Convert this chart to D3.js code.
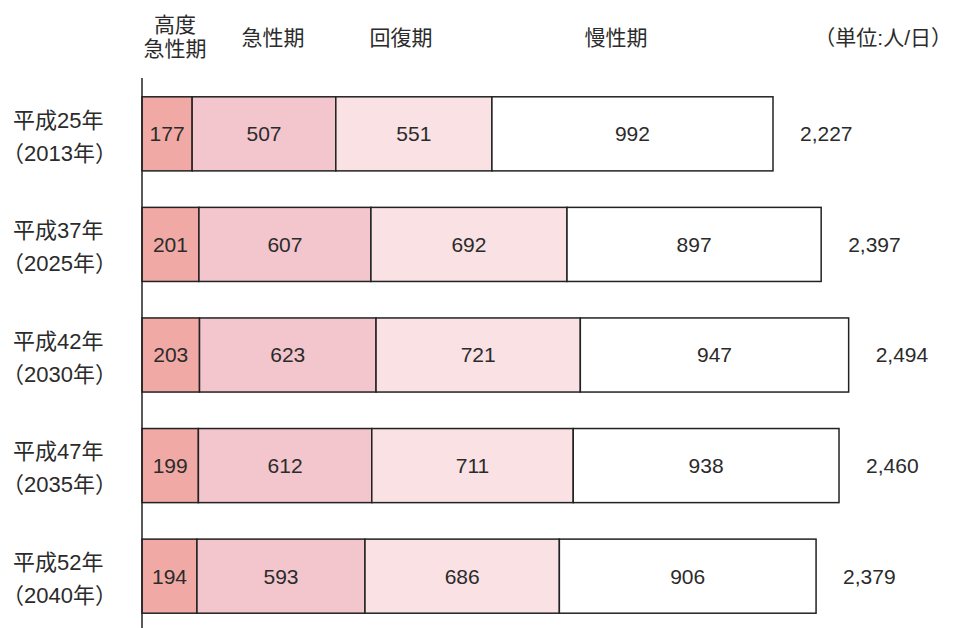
<!DOCTYPE html>
<html>
<head>
<meta charset="utf-8">
<script src="https://cdn.jsdelivr.net/npm/d3@7"></script>
<style>
  body { margin: 0; background: #fff; }
  svg { display: block; font-family: "Liberation Sans", "Noto Sans CJK JP", sans-serif; }
  text { fill: #2b2b2b; }
</style>
</head>
<body>
<script>
const years = ['平成25年', '平成37年', '平成42年', '平成47年', '平成52年']
const westernYears = ['（2013年）', '（2025年）', '（2030年）', '（2035年）', '（2040年）']
const phases = ['高度急性期', '急性期', '回復期', '慢性期']
const highAcute = [177, 201, 203, 199, 194]
const acute = [507, 607, 623, 612, 593]
const recovery = [551, 692, 721, 711, 686]
const chronic = [992, 897, 947, 938, 906]
const totals = [2227, 2397, 2494, 2460, 2379]

const colors = ['#f0a9a5', '#f2c6cc', '#f9e1e4', '#ffffff']
const width = 963, height = 628
const margin = { top: 78, right: 0, bottom: 0, left: 142 }

const rows = years.map((y, i) => ({
  year: y, western: westernYears[i], total: totals[i],
  values: [highAcute[i], acute[i], recovery[i], chronic[i]]
}))

const svg = d3.select('body').append('svg')
  .attr('width', width)
  .attr('height', height)

const x = d3.scaleLinear()
  .domain([0, 2227])
  .range([margin.left, 773])

const y = d3.scaleBand()
  .domain(years)
  .range([margin.top, height + 4])
  .paddingInner(0.33)
  .paddingOuter(0.17)

// bars
const bars = svg.selectAll('g.row').data(rows)
  .enter().append('g')
    .classed('row', true)
    .attr('transform', d => `translate(0, ${y(d.year)})`)

bars.each(function (d) {
  const g = d3.select(this)
  const mid = y.bandwidth() / 2
  let acc = 0
  const segs = d.values.map((v, k) => {
    const s = { start: acc, end: acc + v, v, k }
    acc += v
    return s
  })
  g.selectAll('rect').data(segs)
    .enter().append('rect')
      .attr('x', s => x(s.start))
      .attr('width', s => x(s.end) - x(s.start))
      .attr('height', y.bandwidth())
      .attr('fill', s => colors[s.k])
      .attr('stroke', '#222')
      .attr('stroke-width', 1.5)
  g.selectAll('text.val').data(segs)
    .enter().append('text')
      .classed('val', true)
      .attr('x', s => (x(s.start) + x(s.end)) / 2)
      .attr('y', mid)
      .attr('dy', '0.35em')
      .attr('text-anchor', 'middle')
      .style('font-size', '21px')
      .text(s => s.v)
  g.append('text')
    .attr('x', x(d.total) + 27)
    .attr('y', mid)
    .attr('dy', '0.35em')
    .style('font-size', '21px')
    .text(d3.format(',')(d.total))
  g.append('text')
    .attr('x', 13)
    .attr('y', mid - 14)
    .attr('dy', '0.35em')
    .style('font-size', '22px')
    .text(d.year)
  g.append('text')
    .attr('x', 2)
    .attr('y', mid + 19)
    .attr('dy', '0.35em')
    .style('font-size', '22px')
    .text(d.western)
})

// axis line
svg.append('line')
  .attr('x1', margin.left).attr('x2', margin.left)
  .attr('y1', margin.top).attr('y2', height)
  .attr('stroke', '#222')
  .attr('stroke-width', 1.5)

// header
const header = svg.append('g').style('font-size', '21px')
header.append('text').attr('x', 175).attr('y', 32).attr('text-anchor', 'middle').text(phases[0].slice(0, 2))
header.append('text').attr('x', 175).attr('y', 56).attr('text-anchor', 'middle').text(phases[0].slice(2))
header.append('text').attr('x', 273).attr('y', 45).attr('text-anchor', 'middle').text(phases[1])
header.append('text').attr('x', 401).attr('y', 45).attr('text-anchor', 'middle').text(phases[2])
header.append('text').attr('x', 616).attr('y', 45).attr('text-anchor', 'middle').text(phases[3])
header.append('text').attr('x', 952).attr('y', 45).attr('text-anchor', 'end').text('（単位:人/日）')
</script>
</body>
</html>
